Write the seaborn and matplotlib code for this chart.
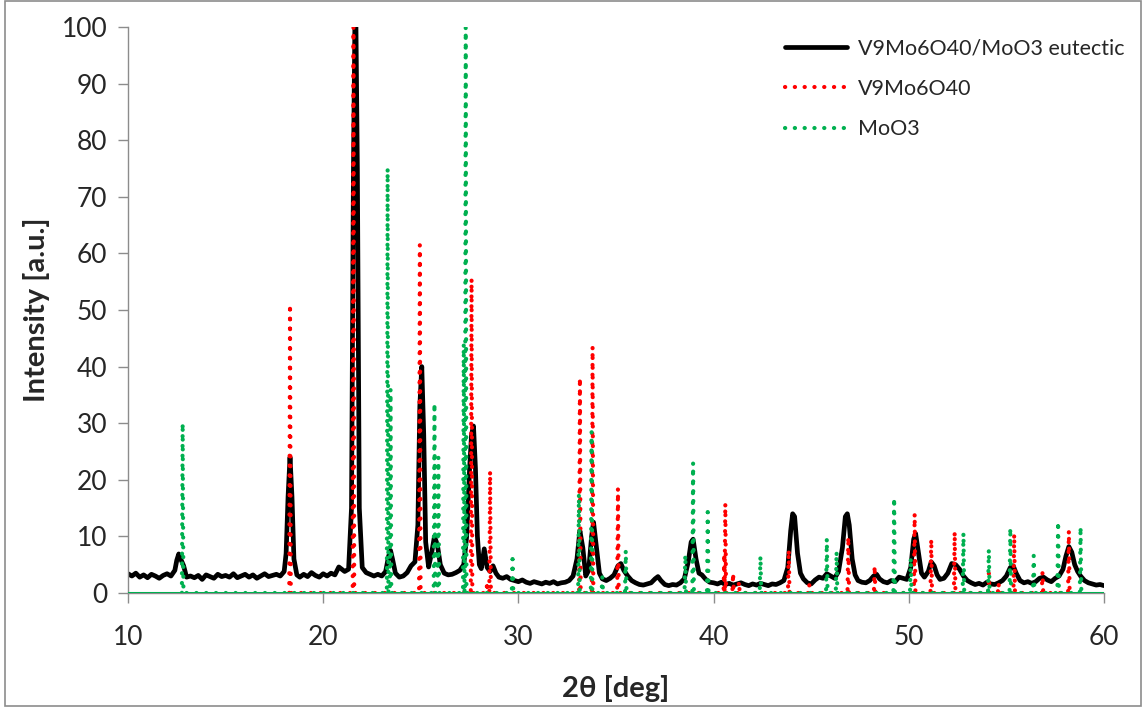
import pandas as pd
import numpy as np
import matplotlib.pyplot as plt
import seaborn as sns
from matplotlib.patches import Rectangle

# measured pattern of the eutectic: (2theta, intensity)
eutectic = [
    (10.0, 3.4), (10.2, 3.0), (10.4, 3.5), (10.6, 2.8), (10.8, 3.2), (11.0, 2.7),
    (11.2, 3.3), (11.4, 3.0), (11.6, 2.6), (11.8, 3.1), (12.0, 3.4), (12.2, 3.0),
    (12.4, 4.0), (12.5, 5.8), (12.6, 6.9), (12.7, 6.0), (12.85, 4.8), (13.0, 2.8), (13.2, 3.0),
    (13.4, 2.7), (13.6, 3.1), (13.8, 2.4), (14.0, 3.2), (14.2, 2.9), (14.4, 2.6),
    (14.6, 3.3), (14.8, 2.9), (15.0, 3.1), (15.2, 2.8), (15.4, 3.4), (15.6, 2.7),
    (15.8, 3.0), (16.0, 3.3), (16.2, 2.8), (16.4, 3.2), (16.6, 2.6), (16.8, 3.0),
    (17.0, 3.4), (17.2, 2.9), (17.4, 3.1), (17.6, 3.3), (17.8, 3.0),
    (18.0, 3.8), (18.1, 7.0), (18.2, 17.0), (18.3, 24.0), (18.4, 17.0), (18.5, 6.0), (18.65, 3.2),
    (18.8, 2.8), (19.0, 3.3), (19.2, 2.9), (19.4, 3.6), (19.6, 3.1), (19.8, 2.8),
    (20.0, 3.4), (20.2, 3.0), (20.4, 3.5), (20.6, 3.2),
    (20.8, 4.6), (20.95, 4.2), (21.1, 3.8), (21.3, 4.2), (21.45, 15.0), (21.55, 75.0),
    (21.65, 110.0), (21.75, 75.0), (21.85, 15.0), (22.0, 4.5), (22.2, 3.6),
    (22.4, 3.3), (22.6, 3.0), (22.8, 3.3), (23.0, 3.0), (23.2, 3.8), (23.35, 6.5),
    (23.45, 7.5), (23.55, 6.0), (23.7, 3.5), (23.9, 2.8), (24.1, 3.0), (24.3, 3.6),
    (24.5, 4.8), (24.7, 5.5), (24.85, 12.0), (24.95, 33.0), (25.05, 40.0), (25.15, 28.0),
    (25.25, 9.0), (25.4, 4.6), (25.55, 7.0), (25.7, 10.0), (25.85, 8.5), (26.0, 5.0),
    (26.2, 3.5), (26.4, 3.2), (26.6, 3.3), (26.8, 3.6), (27.0, 4.0), (27.2, 5.0),
    (27.35, 10.0), (27.5, 22.0), (27.6, 28.0), (27.7, 29.5), (27.8, 22.0), (27.9, 10.0),
    (28.0, 5.0), (28.1, 4.3), (28.25, 7.8), (28.4, 4.5), (28.55, 3.8), (28.7, 4.8),
    (28.85, 3.5), (29.0, 2.8), (29.2, 2.6), (29.4, 2.9), (29.6, 2.4), (29.8, 2.2),
    (30.0, 2.0), (30.2, 2.3), (30.4, 1.9), (30.6, 1.7), (30.8, 2.0), (31.0, 1.8),
    (31.2, 1.6), (31.4, 1.9), (31.6, 1.7), (31.8, 2.0), (32.0, 1.6), (32.2, 1.8),
    (32.4, 1.9), (32.6, 2.2),
    (32.8, 3.0), (33.0, 6.0), (33.15, 11.0), (33.3, 8.0), (33.45, 3.0), (33.6, 4.0),
    (33.75, 10.0), (33.85, 12.5), (34.0, 8.0), (34.15, 3.5), (34.3, 2.5), (34.5, 2.2),
    (34.7, 2.6), (34.9, 3.2), (35.1, 4.8), (35.25, 5.2), (35.4, 4.0), (35.6, 3.0),
    (35.8, 2.2), (36.0, 1.8), (36.2, 1.5), (36.4, 1.4), (36.6, 1.6), (36.8, 1.8),
    (37.0, 2.5), (37.15, 2.9), (37.3, 2.2), (37.5, 1.5), (37.7, 1.3), (37.9, 1.5),
    (38.1, 1.4), (38.3, 1.8), (38.5, 2.5), (38.7, 5.5), (38.85, 9.0), (38.95, 9.5),
    (39.1, 6.0), (39.25, 3.5), (39.4, 3.2), (39.6, 2.4), (39.8, 1.9),
    (40.0, 1.8), (40.2, 1.6), (40.4, 1.9), (40.6, 1.5), (40.8, 1.7), (41.0, 1.4),
    (41.2, 1.6), (41.4, 1.8), (41.6, 1.5), (41.8, 1.3), (42.0, 1.6), (42.2, 1.4),
    (42.4, 1.7), (42.6, 1.5), (42.8, 1.3), (43.0, 1.6), (43.2, 1.5), (43.4, 1.8),
    (43.6, 2.2), (43.8, 4.5), (43.95, 11.0), (44.05, 14.0), (44.15, 13.5), (44.3, 7.0),
    (44.45, 3.5), (44.6, 2.5), (44.8, 1.8), (45.0, 1.6), (45.2, 2.3), (45.4, 2.8),
    (45.6, 2.6), (45.8, 3.4), (46.0, 3.0), (46.2, 2.6), (46.4, 3.8), (46.6, 8.0),
    (46.75, 13.5), (46.85, 14.0), (46.95, 12.0), (47.1, 6.0), (47.25, 3.2), (47.4, 2.2),
    (47.6, 1.9), (47.8, 1.8), (48.0, 2.2), (48.2, 3.0), (48.35, 3.3), (48.5, 2.5),
    (48.7, 2.0), (48.9, 1.8), (49.1, 2.2), (49.3, 2.0), (49.5, 2.8), (49.7, 2.6),
    (49.9, 2.4), (50.1, 4.5), (50.25, 9.5), (50.35, 10.5), (50.5, 7.0), (50.65, 3.5),
    (50.8, 2.8), (51.0, 3.8), (51.15, 5.5), (51.3, 4.8), (51.45, 3.2), (51.6, 2.4),
    (51.8, 2.6), (52.0, 3.5), (52.2, 5.2), (52.4, 5.0), (52.6, 4.2), (52.8, 3.0),
    (53.0, 2.2), (53.2, 1.8), (53.4, 1.5), (53.6, 1.7), (53.8, 1.4), (54.0, 1.9),
    (54.2, 1.6), (54.4, 1.5), (54.6, 1.8), (54.8, 2.2), (55.0, 3.0), (55.2, 4.5),
    (55.35, 4.8), (55.5, 3.5), (55.7, 2.2), (55.9, 1.8), (56.1, 2.0), (56.3, 1.7),
    (56.5, 2.0), (56.7, 2.6), (56.9, 2.8), (57.1, 2.3), (57.3, 2.0), (57.5, 2.6),
    (57.7, 3.0), (57.9, 4.2), (58.05, 6.5), (58.2, 8.2), (58.35, 7.2), (58.5, 5.0),
    (58.65, 3.8), (58.8, 3.0), (59.0, 2.2), (59.2, 1.8), (59.4, 1.6), (59.6, 1.4),
    (59.8, 1.5), (60.0, 1.3),
]

# reference patterns (stick positions and relative intensities)
v9_pos = [18.3, 21.55, 24.95, 27.6, 28.4, 28.55, 33.15, 33.8, 35.1, 40.55, 40.6, 41.0,
          41.3, 43.85, 44.9, 46.9, 48.25, 50.3, 51.15, 52.35, 54.1, 54.6, 55.4, 56.85, 58.2]
v9_int = [51.0, 100.0, 61.5, 55.5, 2.0, 21.5, 38.0, 43.5, 18.5, 7.0, 15.8, 3.5,
          2.0, 7.6, 1.5, 9.9, 4.8, 14.0, 9.5, 10.8, 3.6, 1.7, 10.4, 3.7, 11.0]

moo3_pos = [12.8, 23.3, 23.45, 25.7, 25.9, 27.2, 27.3, 29.7, 33.1, 33.75, 34.3, 35.5,
            38.55, 38.95, 39.7, 42.4, 45.8, 46.3, 49.25, 50.1, 52.8, 54.1, 55.2, 56.4,
            57.65, 58.8]
moo3_int = [30.0, 75.0, 36.0, 33.5, 24.0, 44.0, 100.0, 6.0, 17.5, 28.5, 2.8, 7.5,
            6.7, 23.0, 14.3, 6.5, 9.6, 7.3, 16.8, 6.2, 10.6, 7.7, 11.5, 6.6,
            12.6, 11.7]

def sticks(pos, inten, w=0.04):
    xs, ys = [], []
    for p, h in zip(pos, inten):
        xs += [p - w, p, p + w]
        ys += [0.0, h, 0.0]
    return pd.DataFrame({'x': xs, 'y': ys})

eut = pd.DataFrame(eutectic, columns=['x', 'y'])
v9 = sticks(v9_pos, v9_int)
moo3 = sticks(moo3_pos, moo3_int)

sns.set_theme(style='white')
plt.rcParams['font.family'] = ['Lato', 'DejaVu Sans']

fig = plt.figure(figsize=(11.47, 7.10), dpi=100)
ax = fig.add_axes([0.1116, 0.1648, 0.8509, 0.7972])
fig.patches.append(Rectangle((0.004, 0.005), 0.991, 0.994, transform=fig.transFigure,
                             fill=False, edgecolor='#8c8c8c', linewidth=1.2))

red = '#ff0000'
green = '#00b050'
dots = (0, (0.05, 2.3))
sns.lineplot(data=eut, x='x', y='y', ax=ax, color='black', linewidth=3.4,
             estimator=None, sort=False, label='V9Mo6O40/MoO3 eutectic')
sns.lineplot(data=v9, x='x', y='y', ax=ax, color=red, linewidth=3.0,
             estimator=None, sort=False, label='V9Mo6O40')
sns.lineplot(data=moo3, x='x', y='y', ax=ax, color=green, linewidth=3.0,
             estimator=None, sort=False, label='MoO3')
for ln in ax.lines[1:]:
    ln.set_linestyle(dots)
    ln.set_dash_capstyle('round')
ax.axhline(0, color=green, linewidth=2.2, zorder=3)

ax.set_xlim(10, 60)
ax.set_ylim(0, 100)
ax.set_xticks(range(10, 61, 10))
ax.set_yticks(range(0, 101, 10))
for s in ['top', 'right']:
    ax.spines[s].set_visible(False)
for s in ['left', 'bottom']:
    ax.spines[s].set_color('#8c8c8c')
    ax.spines[s].set_linewidth(1.0)
ax.tick_params(axis='both', direction='out', length=7, width=1, color='#8c8c8c',
               labelsize=19, labelcolor='#262626', left=True, bottom=True)
ax.tick_params(axis='x', pad=16)
ax.tick_params(axis='y', pad=8)
ax.set_xlabel('2θ [deg]', fontsize=21, fontweight='bold', labelpad=18)
ax.set_ylabel('Intensity [a.u.]', fontsize=21, fontweight='bold', labelpad=8)

leg = ax.legend(loc='upper right', frameon=False, fontsize=15.5, handlelength=2.9,
                handletextpad=0.5, labelspacing=0.95, borderaxespad=0.0,
                bbox_to_anchor=(1.03, 0.995))
for h in leg.get_lines()[1:]:
    h.set_linestyle(dots)
    h.set_dash_capstyle('round')

fig.savefig('out.png', dpi=100)
